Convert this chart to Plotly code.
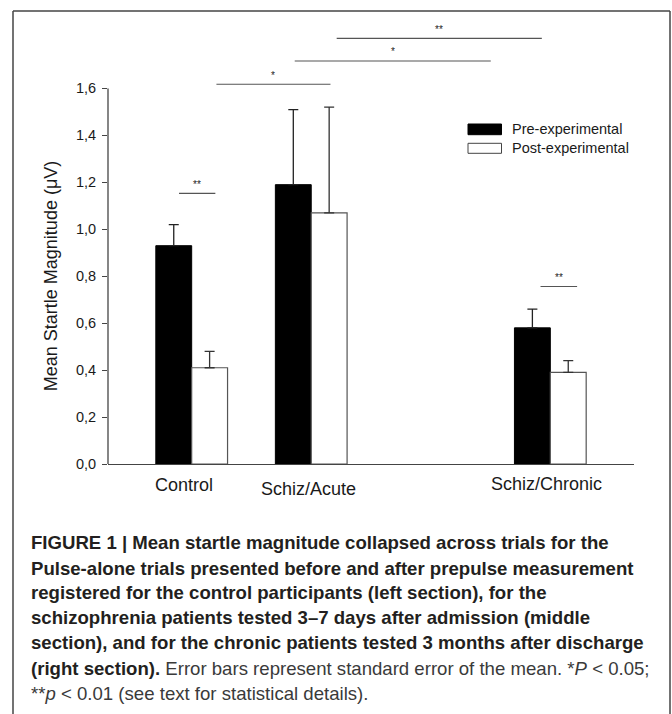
import plotly.graph_objects as go

# ---- data ----
groups = ["Control", "Schiz/Acute", "Schiz/Chronic"]
group_pos = [1, 2, 4]
pre_mean = [0.93, 1.19, 0.58]
pre_se = [0.09, 0.32, 0.08]
post_mean = [0.41, 1.07, 0.39]
post_se = [0.07, 0.45, 0.05]
series_names = ["Pre-experimental", "Post-experimental"]
y_ticks = [0.0, 0.2, 0.4, 0.6, 0.8, 1.0, 1.2, 1.4, 1.6]
y_tick_labels = ["0,0", "0,2", "0,4", "0,6", "0,8", "1,0", "1,2", "1,4", "1,6"]
# significance brackets: (x start, x end, y level, label)
sig_x0 = [0.894, 1.207, 1.862, 2.213, 3.918]
sig_x1 = [1.198, 2.161, 3.502, 3.929, 4.224]
sig_y = [1.153, 1.618, 1.717, 1.813, 0.756]
sig_label = ["**", "*", "*", "**", "**"]

caption_lines = [
    "<b>FIGURE 1 | Mean startle magnitude collapsed across trials for the</b>",
    "<b>Pulse-alone trials presented before and after prepulse measurement</b>",
    "<b>registered for the control participants (left section), for the</b>",
    "<b>schizophrenia patients tested 3–7 days after admission (middle</b>",
    "<b>section), and for the chronic patients tested 3 months after discharge</b>",
    "<b>(right section).</b> <span style='color:#3a3a3a'>Error bars represent standard error of the mean. *<i>P</i> &lt; 0.05;</span>",
    "<span style='color:#3a3a3a'>**<i>p</i> &lt; 0.01 (see text for statistical details).</span>",
]

# ---- layout geometry ----
W, H = 672, 714
ML, MR, MT, MB = 108, 38, 18, 250
PW, PH = W - ML - MR, H - MT - MB
BW = 0.3
FONT = "Liberation Sans, Arial, sans-serif"


def px_x(px):
    return (px - ML) / PW


def px_y(py):
    return (H - MB - py) / PH


fig = go.Figure()
fig.add_trace(go.Bar(
    x=group_pos, y=pre_mean, width=BW, offset=-BW, name=series_names[0],
    marker=dict(color="#000000", line=dict(color="#000000", width=1)),
    error_y=dict(type="data", symmetric=False, array=pre_se,
                 arrayminus=[0] * len(pre_se), color="#222222", thickness=1.3, width=5),
    showlegend=False,
))
fig.add_trace(go.Bar(
    x=group_pos, y=post_mean, width=BW, offset=0, name=series_names[1],
    marker=dict(color="#ffffff", line=dict(color="#555555", width=1.2)),
    error_y=dict(type="data", symmetric=False, array=post_se,
                 arrayminus=[0] * len(post_se), color="#333333", thickness=1.3, width=5),
    showlegend=False,
))

shapes = []
annotations = []

# y axis line only from 0 to 1.6
shapes.append(dict(type="line", xref="paper", yref="y", x0=0, x1=0,
                   y0=y_ticks[0], y1=y_ticks[-1], line=dict(color="#444444", width=1.3)))

# significance brackets
for x0, x1, yv, lab in zip(sig_x0, sig_x1, sig_y, sig_label):
    shapes.append(dict(type="line", xref="x", yref="y", x0=x0, x1=x1, y0=yv, y1=yv,
                       line=dict(color="#555555", width=1.1)))
    annotations.append(dict(x=(x0 + x1) / 2, y=yv, xref="x", yref="y", text=lab,
                            showarrow=False, yanchor="middle", yshift=9,
                            font=dict(family=FONT, size=10, color="#222222")))

# custom legend
leg_items = [(124, 134.7, "#000000", "#000000"), (143.3, 153.3, "#ffffff", "#444444")]
for (ya, yb, fc, lc), name in zip(leg_items, series_names):
    shapes.append(dict(type="rect", xref="paper", yref="paper",
                       x0=px_x(468), x1=px_x(501.5), y0=px_y(yb), y1=px_y(ya),
                       fillcolor=fc, line=dict(color=lc, width=1)))
    annotations.append(dict(x=px_x(510), y=px_y((ya + yb) / 2), xref="paper", yref="paper",
                            text=name, showarrow=False, xanchor="left", yanchor="middle",
                            font=dict(family=FONT, size=14.5, color="#1a1a1a")))

# category labels
cat_shift = [-8, -3, -4]
cat_py = [485, 488.5, 484]
for g, xp, dx, py in zip(groups, group_pos, cat_shift, cat_py):
    annotations.append(dict(x=xp, y=px_y(py), xref="x", yref="paper", text=g,
                            showarrow=False, xshift=dx, yanchor="middle",
                            font=dict(family=FONT, size=18, color="#1a1a1a")))

# y axis title
annotations.append(dict(x=px_x(51), y=(y_ticks[0] + y_ticks[-1]) / 2, xref="paper", yref="y",
                        text="Mean Startle Magnitude (μV)", textangle=-90, showarrow=False,
                        xanchor="center", yanchor="middle",
                        font=dict(family=FONT, size=18, color="#1a1a1a")))

# caption
cap_py = [542.7, 568.0, 592.7, 617.7, 642.7, 668.0, 693.3]
for line, py in zip(caption_lines, cap_py):
    annotations.append(dict(x=px_x(29), y=px_y(py), xref="paper", yref="paper", text=line,
                            showarrow=False, xanchor="left", yanchor="middle",
                            font=dict(family=FONT, size=18.6, color="#231f20")))

# outer frame
for x0, y0, x1, y1 in [(13, 11, 13, 714), (13, 11, 670, 11), (670, 11, 670, 714)]:
    shapes.append(dict(type="line", xref="paper", yref="paper",
                       x0=px_x(x0), x1=px_x(x1), y0=px_y(y0), y1=px_y(y1),
                       line=dict(color="#444444", width=1.5)))

fig.update_layout(
    width=W, height=H,
    margin=dict(l=ML, r=MR, t=MT, b=MB, pad=0),
    paper_bgcolor="white", plot_bgcolor="white",
    barmode="overlay",
    shapes=shapes, annotations=annotations,
    font=dict(family=FONT, size=14, color="#1a1a1a"),
    xaxis=dict(range=[0.3, 4.7], showgrid=False, zeroline=False, showline=True,
               linecolor="#444444", linewidth=1.3, showticklabels=False, ticks="",
               fixedrange=True),
    yaxis=dict(range=[0, 1.9], showgrid=False, zeroline=False, showline=False,
               tickvals=y_ticks, ticktext=y_tick_labels, ticks="outside", ticklen=5,
               tickwidth=1.2, tickcolor="#444444", ticklabelstandoff=3,
               tickfont=dict(family=FONT, size=14.5, color="#1a1a1a"), fixedrange=True),
)

fig.write_html("out.html", config={"displayModeBar": False},
               post_script="document.body.style.margin='0px';"
               "document.body.style.overflow='hidden';")
